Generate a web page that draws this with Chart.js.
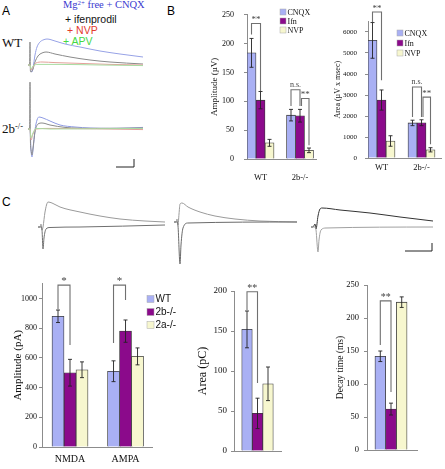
<!DOCTYPE html>
<html>
<head>
<meta charset="utf-8">
<script src="https://cdn.jsdelivr.net/npm/chart.js@4.4.1/dist/chart.umd.min.js"></script>
<style>
  body { margin: 0; background: #fff; }
  #fig { position: relative; width: 445px; height: 469px; overflow: hidden; background: #fff; }
  #fig canvas { position: absolute; left: 0; top: 0; }
  .t { position: absolute; white-space: nowrap; line-height: 1; }
  .serif { font-family: 'Liberation Serif', 'Times New Roman', serif; }
  .sans { font-family: 'Liberation Sans', Arial, sans-serif; }
  sup { font-size: 65%; vertical-align: 0; position: relative; top: -0.45em; }
</style>
</head>
<body>
<div id="fig">
  <div class="t sans" style="left:2px;top:5px;font-size:12px">A</div>
  <div class="t sans" style="left:167px;top:5px;font-size:12px">B</div>
  <div class="t sans" style="left:2px;top:196px;font-size:12px">C</div>

  <div class="t serif" style="left:63px;top:0px;font-size:10.5px;color:#3a3ad0">Mg<sup>2+</sup> free + CNQX</div>
  <div class="t sans" style="left:65px;top:14px;font-size:10.5px;color:#111">+ ifenprodil</div>
  <div class="t sans" style="left:67px;top:25px;font-size:10.5px;color:#e33b2e">+ NVP</div>
  <div class="t sans" style="left:63px;top:36px;font-size:10.5px;color:#44d844">+ APV</div>
  <div class="t serif" style="left:2px;top:36px;font-size:13px;color:#111">WT</div>
  <div class="t serif" style="left:2px;top:122px;font-size:13px;color:#111">2b<sup>-/-</sup></div>
</div>
<script>
  // ---- panel B: field potentials (WT vs 2b-/-) ----
  const bGroups = ['WT', '2b-/-'];
  const bSeries = ['CNQX', 'Ifn', 'NVP'];
  const ampCNQX = [184, 76], ampIfn = [102, 75], ampNVP = [28, 15];
  const ampCNQXErr = [25, 10], ampIfnErr = [15, 11], ampNVPErr = [6, 4];
  const areaCNQX = [5600, 1670], areaIfn = [2760, 1680], areaNVP = [810, 390];
  const areaCNQXErr = [850, 130], areaIfnErr = [480, 140], areaNVPErr = [250, 100];

  // ---- panel C: EPSCs (WT, 2b-/-, 2a-/-) ----
  const cGroups = ['NMDA', 'AMPA'];
  const cSeries = ['WT', '2b-/-', '2a-/-'];
  const cAmpWT = [880, 510], cAmp2b = [500, 780], cAmp2a = [520, 610];
  const cAmpWTErr = [42, 70], cAmp2bErr = [90, 75], cAmp2aErr = [53, 57];
  const cArea = [152, 47, 84], cAreaErr = [23, 19, 21];
  const cDecay = [142, 62, 224], cDecayErr = [8, 9, 8];

  // ---- panel A traces (ms, uV) ----
  const wtCnqxT = [0, 10, 15, 20, 25, 35, 45, 60, 75, 95, 135, 185, 260, 360, 460, 575];
  const wtCnqxV = [0, 0, -30, -35, -15, 50, 90, 115, 125, 130, 120, 105, 90, 70, 55, 40];
  const wtIfenT = [0, 8, 10, 12, 15, 20, 25, 35, 50, 70, 90, 135, 210, 310, 410, 575];
  const wtIfenV = [0, 0, 115, -30, -35, -30, -20, 15, 45, 60, 65, 55, 40, 25, 15, 5];
  const wtNvpT = [0, 10, 15, 25, 40, 70, 135, 260, 410, 575];
  const wtNvpV = [0, 0, -25, -10, 10, 15, 12, 8, 3, 0];
  const wtApvT = [0, 10, 15, 25, 50, 160, 360, 575];
  const wtApvV = [0, 0, -20, -5, 3, 3, 0, -3];
  const koCnqxT = [0, 10, 15, 20, 25, 35, 45, 55, 75, 110, 160, 235, 310, 410, 510, 575];
  const koCnqxV = [0, 0, -105, -140, -105, -5, 45, 60, 55, 40, 20, 10, 5, 3, 5, 8];
  const koIfenT = [0, 8, 10, 12, 15, 20, 25, 35, 50, 70, 110, 185, 310, 575];
  const koIfenV = [0, 0, 235, -55, -105, -130, -95, -15, 25, 30, 20, 8, 3, 5];
  const koNvpT = [0, 10, 15, 25, 40, 110, 575];
  const koNvpV = [0, 0, -55, -25, 0, 3, -3];
  const koApvT = [0, 10, 15, 25, 40, 110, 575];
  const koApvV = [0, 0, -45, -20, 3, 0, 3];
  const aBarT = [440, 530, 530], aBarV = [-190, -190, -150];

  // ---- panel C traces (ms, pA) ----
  const c1SlowT = [0, 10, 15, 20, 25, 35, 50, 70, 110, 210, 310, 410, 535, 635];
  const c1SlowV = [0, 0, 30, -30, 0, 150, 250, 240, 200, 150, 110, 80, 60, 50];
  const c1FastT = [0, 15, 20, 25, 30, 40, 60, 210, 635];
  const c1FastV = [0, 0, -30, -220, -110, -20, -5, 0, 20];
  const c2SlowT = [0, 10, 15, 20, 25, 30, 40, 70, 130, 205, 305, 430, 615];
  const c2SlowV = [0, 0, 30, -30, 80, 180, 190, 150, 100, 60, 30, 10, 0];
  const c2FastT = [0, 15, 20, 30, 35, 45, 70, 615];
  const c2FastV = [0, 0, -40, -420, -230, -60, -10, 0];
  const c3SlowT = [0, 10, 20, 25, 35, 45, 55, 145, 295, 445, 610];
  const c3SlowV = [0, 0, 30, -20, 110, 180, 190, 170, 140, 100, 60];
  const c3FastT = [0, 20, 25, 35, 40, 50, 75, 610];
  const c3FastV = [0, 0, -30, -250, -130, -30, -10, 0];
  const cBarT = [470, 605, 605], cBarV = [-240, -240, -160];

  const W = 445, H = 469;
  const SERIF = "'Liberation Serif', 'Times New Roman', serif";
  const SANS = "'Liberation Sans', Arial, sans-serif";
  const AXIS = '#8c8c8c';
  const LAV = '#a9b0f4', PURP = '#8b0a8b', YEL = '#f7f7cf';
  const fig = document.getElementById('fig');

  function addCanvas() {
    const c = document.createElement('canvas');
    c.width = W; c.height = H;
    fig.appendChild(c);
    return c;
  }

  function traceChart(area, xr, yr, sets) {
    new Chart(addCanvas(), {
      type: 'line',
      data: {
        datasets: sets.map(s => ({
          data: s.t.map((t, i) => ({ x: t, y: s.v[i] })),
          borderColor: s.color,
          borderWidth: s.w || 1,
          pointRadius: 0,
          fill: false,
          tension: 0,
          cubicInterpolationMode: s.straight ? 'default' : 'monotone'
        }))
      },
      options: {
        responsive: false, animation: false, events: [],
        layout: { padding: { left: area[0], top: area[1], right: W - area[2], bottom: H - area[3] } },
        plugins: { legend: { display: false }, tooltip: { enabled: false } },
        scales: {
          x: { type: 'linear', display: false, min: xr[0], max: xr[1] },
          y: { type: 'linear', display: false, min: yr[0], max: yr[1] }
        }
      }
    });
  }

  function barChart(cfg) {
    const marks = {
      id: 'marks',
      afterDatasetsDraw(chart) {
        const ctx = chart.ctx, ys = chart.scales.y;
        ctx.save();
        // error bars
        ctx.strokeStyle = '#222';
        ctx.lineWidth = 0.9;
        chart.data.datasets.forEach((ds, i) => {
          chart.getDatasetMeta(i).data.forEach((bar, j) => {
            const v = ds.data[j].y, e = ds.err[j];
            const y1 = ys.getPixelForValue(v + e), y2 = ys.getPixelForValue(v - e);
            ctx.beginPath();
            ctx.moveTo(bar.x, y1); ctx.lineTo(bar.x, y2);
            ctx.moveTo(bar.x - 2, y1); ctx.lineTo(bar.x + 2, y1);
            ctx.moveTo(bar.x - 2, y2); ctx.lineTo(bar.x + 2, y2);
            ctx.stroke();
          });
        });
        // significance brackets
        (cfg.brackets || []).forEach(b => {
          const xa = chart.getDatasetMeta(b.a).data[b.cat].x + (b.dxa || 0);
          const xb = chart.getDatasetMeta(b.b).data[b.cat].x + (b.dxb || 0);
          const yt = ys.getPixelForValue(b.top);
          ctx.strokeStyle = '#707070';
          ctx.lineWidth = 1.1;
          ctx.beginPath();
          ctx.moveTo(xa, ys.getPixelForValue(b.legA));
          ctx.lineTo(xa, yt); ctx.lineTo(xb, yt);
          ctx.lineTo(xb, ys.getPixelForValue(b.legB));
          ctx.stroke();
          ctx.fillStyle = '#444';
          ctx.font = (b.size || 9) + 'px ' + SERIF;
          ctx.textAlign = 'center';
          ctx.textBaseline = 'alphabetic';
          ctx.fillText(b.text, (xa + xb) / 2, yt - (b.gap || 1));
        });
        // legend
        if (cfg.legend) {
          const L = cfg.legend;
          chart.data.datasets.forEach((ds, i) => {
            const y = L.y + i * L.dy;
            ctx.fillStyle = ds.backgroundColor;
            ctx.fillRect(L.x, y - L.box / 2, L.box, L.box);
            ctx.strokeStyle = '#aaa';
            ctx.lineWidth = 0.5;
            ctx.strokeRect(L.x, y - L.box / 2, L.box, L.box);
            ctx.fillStyle = '#111';
            ctx.font = L.size + 'px ' + L.font;
            ctx.textAlign = 'left';
            ctx.textBaseline = 'middle';
            ctx.fillText(ds.label, L.x + L.box + 1.5, y + 0.5);
          });
        }
        ctx.restore();
      }
    };

    new Chart(addCanvas(), {
      type: 'bar',
      data: {
        datasets: cfg.series.map((name, i) => ({
          label: name,
          data: cfg.values[i].map((v, j) => ({ x: j, y: v })),
          err: cfg.errors[i],
          backgroundColor: cfg.colors[i],
          borderColor: '#3a3a3a',
          borderWidth: 0.8,
          barThickness: cfg.barW
        }))
      },
      plugins: [marks],
      options: {
        responsive: false, animation: false, events: [],
        layout: {
          padding: {
            left: cfg.axisX - cfg.yW, right: W - cfg.rightX,
            top: cfg.topY, bottom: H - cfg.zeroY - cfg.xH
          }
        },
        plugins: { legend: { display: false }, tooltip: { enabled: false } },
        scales: {
          x: {
            type: 'linear', min: cfg.xMin, max: cfg.xMax, offset: false,
            grid: { display: false, drawTicks: false },
            border: { display: true, color: AXIS, width: 1 },
            ticks: {
              display: !!cfg.groups, stepSize: 1, includeBounds: false, autoSkip: false,
              maxRotation: 0, padding: cfg.xPad || 0, color: '#111',
              font: { family: SERIF, size: cfg.xFont || 9 },
              callback: v => (cfg.groups && cfg.groups[v] !== undefined) ? cfg.groups[v] : ''
            },
            afterFit: s => { s.height = cfg.xH; }
          },
          y: {
            type: 'linear', min: 0, max: cfg.yMax,
            grid: { display: true, drawOnChartArea: false, drawTicks: true, tickLength: 3, color: AXIS },
            border: { display: true, color: AXIS, width: 1 },
            ticks: {
              autoSkip: false, padding: cfg.yPad, color: '#111',
              font: { family: SERIF, size: cfg.tickFont },
              callback: v => String(v)
            },
            afterBuildTicks: s => {
              const t = [];
              for (let v = 0; v <= cfg.yMax + 1e-6; v += cfg.step) t.push({ value: v });
              s.ticks = t;
            },
            title: {
              display: true, text: cfg.title, padding: 0, color: '#111',
              font: { family: SERIF, size: cfg.titleFont }
            },
            afterFit: s => { s.width = cfg.yW; }
          }
        }
      }
    });
  }

  // ---- A: traces ----
  traceChart([28, 30, 148, 80], [0, 600], [-75, 175], [
    { t: wtApvT, v: wtApvV, color: '#a9dca2' },
    { t: wtNvpT, v: wtNvpV, color: '#e3a09a' },
    { t: wtIfenT, v: wtIfenV, color: '#8a8a8a' },
    { t: wtCnqxT, v: wtCnqxV, color: '#97a2e6' }
  ]);
  traceChart([28, 78, 148, 172], [0, 600], [-215, 255], [
    { t: koApvT, v: koApvV, color: '#a9dca2' },
    { t: koNvpT, v: koNvpV, color: '#e3a09a' },
    { t: koIfenT, v: koIfenV, color: '#8a8a8a' },
    { t: koCnqxT, v: koCnqxV, color: '#8f9be3' },
    { t: aBarT, v: aBarV, color: '#222', straight: true }
  ]);

  // ---- B: amplitude ----
  barChart({
    series: bSeries, groups: bGroups, colors: [LAV, PURP, YEL],
    values: [ampCNQX, ampIfn, ampNVP], errors: [ampCNQXErr, ampIfnErr, ampNVPErr],
    axisX: 247, rightX: 316, topY: 12, zeroY: 159, yW: 37.4, xH: 30,
    xMin: -0.342, xMax: 1.405, yMax: 250, step: 50, barW: 9,
    tickFont: 8, yPad: 10, title: 'Amplitude (\u00b5V)', titleFont: 9, xFont: 8.5, xPad: 14,
    legend: { x: 280, y: 12, dy: 9, box: 6, size: 8, font: SERIF },
    brackets: [
      { cat: 0, a: 0, b: 1, top: 235, legA: 216, legB: 118, text: '**' },
      { cat: 1, a: 0, b: 1, top: 120, legA: 92, legB: 92, text: 'n.s.', size: 8, gap: 3 },
      { cat: 1, a: 1, b: 2, top: 105, legA: 92, legB: 24, text: '**', dxa: 1.5 }
    ]
  });

  // ---- B: area ----
  barChart({
    series: bSeries, groups: bGroups, colors: [LAV, PURP, YEL],
    values: [areaCNQX, areaIfn, areaNVP], errors: [areaCNQXErr, areaIfnErr, areaNVPErr],
    axisX: 368, rightX: 441, topY: 21.5, zeroY: 158, yW: 34.8, xH: 30,
    xMin: -0.3375, xMax: 1.4875, yMax: 6500, step: 1000, barW: 9,
    tickFont: 7, yPad: 8, title: 'Area (\u00b5V x msec)', titleFont: 8, xFont: 8.5, xPad: 5,
    legend: { x: 397, y: 33, dy: 10, box: 6, size: 8, font: SERIF },
    brackets: [
      { cat: 0, a: 0, b: 1, top: 6950, legA: 6480, legB: 3700, text: '**' },
      { cat: 1, a: 0, b: 1, top: 3380, legA: 1950, legB: 1950, text: 'n.s.', size: 8, gap: 3 },
      { cat: 1, a: 1, b: 2, top: 2900, legA: 1950, legB: 650, text: '**', dxa: 1.5 }
    ]
  });

  // ---- C: traces ----
  traceChart([38, 190, 170, 262], [0, 660], [-350, 370], [
    { t: c1FastT, v: c1FastV, color: '#6f6f6f' },
    { t: c1SlowT, v: c1SlowV, color: '#9a9a9a' }
  ]);
  traceChart([174, 190, 300, 270], [0, 630], [-480, 320], [
    { t: c2FastT, v: c2FastV, color: '#6a6a6a' },
    { t: c2SlowT, v: c2SlowV, color: '#9a9a9a' }
  ]);
  traceChart([311, 190, 440, 262], [0, 645], [-350, 370], [
    { t: c3FastT, v: c3FastV, color: '#a0a0a0' },
    { t: c3SlowT, v: c3SlowV, color: '#333' },
    { t: cBarT, v: cBarV, color: '#222', straight: true }
  ]);

  // ---- C: amplitude ----
  barChart({
    series: cSeries, groups: cGroups, colors: [LAV, PURP, YEL],
    values: [cAmpWT, cAmp2b, cAmp2a], errors: [cAmpWTErr, cAmp2bErr, cAmp2aErr],
    axisX: 42, rightX: 152, topY: 283.6, zeroY: 447, yW: 30.6, xH: 20,
    xMin: -0.5045, xMax: 1.477, yMax: 1100, step: 200, barW: 12,
    tickFont: 8, yPad: 2, title: 'Amplitude (pA)', titleFont: 11, xFont: 10, xPad: 6,
    legend: { x: 147, y: 299, dy: 13, box: 7, size: 10, font: SANS },
    brackets: [
      { cat: 0, a: 0, b: 1, top: 1090, legA: 925, legB: 687, text: '*', size: 11, gap: 0 },
      { cat: 1, a: 0, b: 1, top: 1090, legA: 700, legB: 990, text: '*', size: 11, gap: 0 }
    ]
  });

  // ---- C: area ----
  barChart({
    series: cSeries, colors: [LAV, PURP, YEL],
    values: [[cArea[0]], [cArea[1]], [cArea[2]]], errors: [[cAreaErr[0]], [cAreaErr[1]], [cAreaErr[2]]],
    axisX: 234, rightX: 281, topY: 291, zeroY: 451, yW: 38.2, xH: 10,
    xMin: -1, xMax: 1, yMax: 200, step: 50, barW: 10.5,
    tickFont: 9, yPad: 4, title: 'Area (pC)', titleFont: 12,
    brackets: [
      { cat: 0, a: 0, b: 1, top: 199, legA: 176, legB: 85, text: '**', size: 10, gap: 1 }
    ]
  });

  // ---- C: decay time ----
  barChart({
    series: cSeries, colors: [LAV, PURP, YEL],
    values: [[cDecay[0]], [cDecay[1]], [cDecay[2]]], errors: [[cDecayErr[0]], [cDecayErr[1]], [cDecayErr[2]]],
    axisX: 367, rightX: 417, topY: 285, zeroY: 450, yW: 32.7, xH: 10,
    xMin: -1, xMax: 1.083, yMax: 250, step: 50, barW: 10.7,
    tickFont: 8.5, yPad: 5, title: 'Decay time (ms)', titleFont: 9.5,
    brackets: [
      { cat: 0, a: 0, b: 1, top: 226, legA: 159, legB: 88, text: '**', size: 10, gap: 1 }
    ]
  });
</script>
</body>
</html>
